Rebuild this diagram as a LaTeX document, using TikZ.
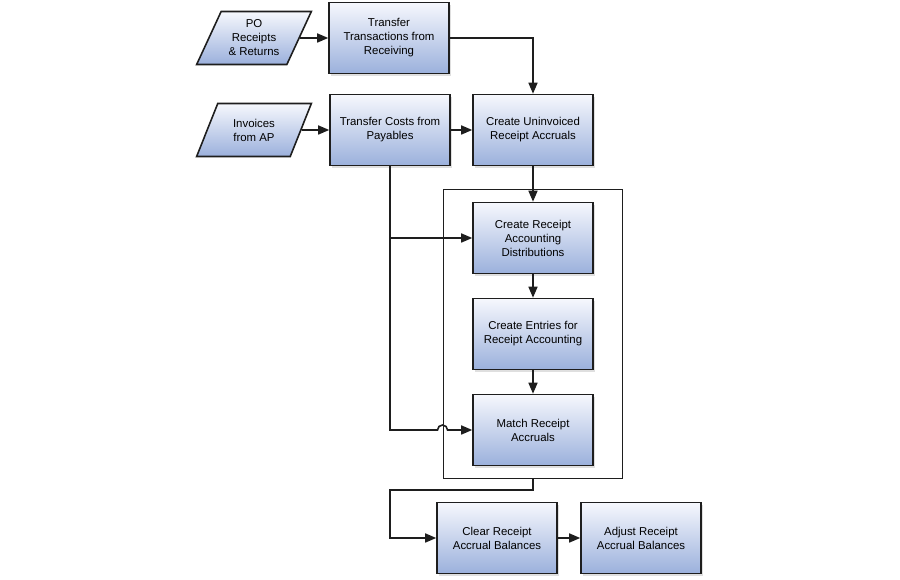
\documentclass[tikz,border=0pt]{standalone}
\usepackage{fontspec}
\setmainfont{Liberation Sans}
\usetikzlibrary{shapes.geometric, arrows.meta, positioning, shadows, calc, fit}

\definecolor{boxblue}{RGB}{155,176,220}
\definecolor{boxtop}{RGB}{246,248,253}
\definecolor{linegray}{RGB}{30,30,30}

\begin{document}
\begin{tikzpicture}[
    x=0.02cm, y=-0.02cm,
    block/.style={
        rectangle,
        draw=linegray,
        top color=boxtop,
        bottom color=boxblue,
        line width=0.9pt,
        minimum width=2.4cm,
        minimum height=1.42cm,
        align=center,
        inner sep=1pt,
        font=\fontsize{6.5}{8}\selectfont,
        drop shadow={shadow xshift=1.2pt, shadow yshift=-1.2pt, opacity=0.25}
    },
    datain/.style={
        trapezium,
        trapezium left angle=63,
        trapezium right angle=117,
        trapezium stretches=true,
        draw=linegray,
        top color=boxtop,
        bottom color=boxblue,
        line width=0.9pt,
        minimum width=2.3cm,
        minimum height=1.06cm,
        align=center,
        inner sep=1pt,
        font=\fontsize{6.5}{8}\selectfont
    },
    line/.style={draw=linegray, line width=0.9pt, -{Triangle[length=2.2mm, width=1.8mm]}}
]
    \path[use as bounding box, fill=white] (0,0) rectangle (900,580);

    \node [datain] (po) at (254,38) {PO\\Receipts\\\& Returns};
    \node [block] (trans) at (389,38) {Transfer\\Transactions from\\Receiving};
    \node [datain] (inv) at (254,130) {Invoices\\from AP};
    \node [block] (costs) at (390,130) {Transfer Costs from\\Payables};
    \node [block] (uninv) at (533,130) {Create Uninvoiced\\Receipt Accruals};

    \node [block] (dist) at (533,238) {Create Receipt\\Accounting\\Distributions};
    \node [block] (entries) at (533,334) {Create Entries for\\Receipt Accounting};
    \node [block] (match) at (533,430) {Match Receipt\\Accruals};
    \node [draw=linegray, line width=0.8pt, inner xsep=0.58cm, inner ysep=0.25cm,
           fit=(dist)(match)] (group) {};

    \node [block] (clear) at (497,538) {Clear Receipt\\Accrual Balances};
    \node [block] (adjust) at (641,538) {Adjust Receipt\\Accrual Balances};

    \coordinate (bend) at (390,490);

    \path [line] (po) -- (trans);
    \path [line] (inv) -- (costs);
    \path [line] (costs) -- (uninv);
    \path [line] (trans.east) -| (uninv.north);
    \path [line] (uninv) -- (dist);
    \path [line] (dist) -- (entries);
    \path [line] (entries) -- (match);
    \path [line] (costs.south) |- (dist.west);
    \path [line] (costs.south) -- (costs.south |- match.west)
        -- ($(group.west |- match.west)+(-0.1cm,0)$)
        arc[start angle=180, end angle=0, radius=0.1cm] -- (match.west);
    \path [line] (group.south) |- (bend) |- (clear.west);
    \path [line] (clear) -- (adjust);
\end{tikzpicture}
\end{document}
